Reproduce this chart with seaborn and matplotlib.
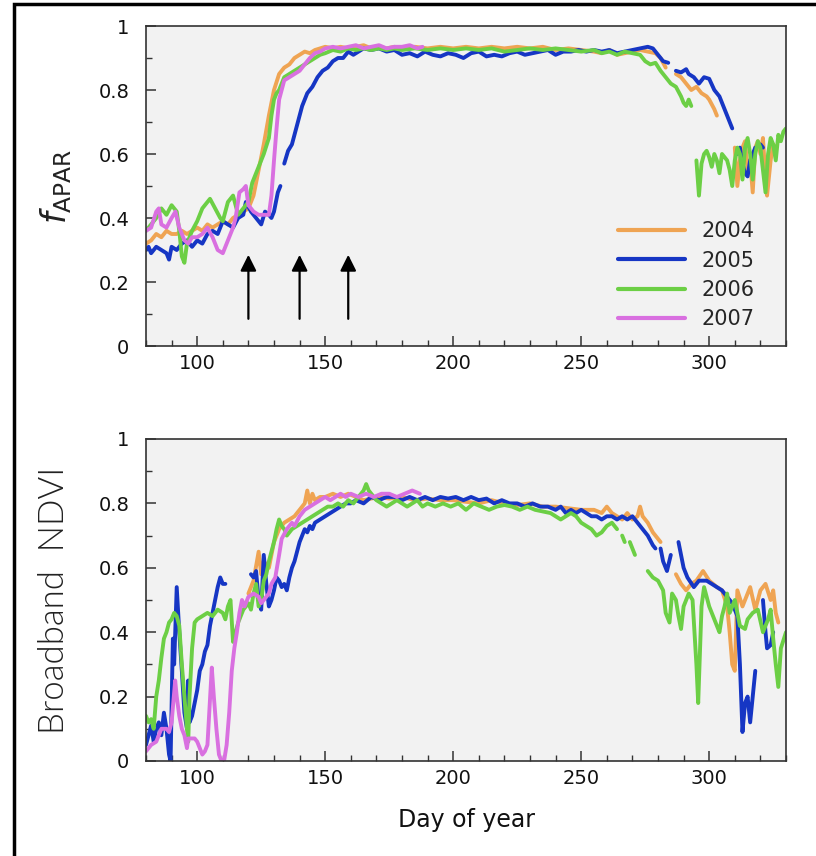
import numpy as np
import pandas as pd
import seaborn as sns
import matplotlib
matplotlib.use("Agg")
import matplotlib.pyplot as plt
from matplotlib.lines import Line2D
from matplotlib.patches import Rectangle
from matplotlib.ticker import MultipleLocator, FixedLocator, FuncFormatter

years = ["2004", "2005", "2006", "2007"]
colors = ["#EFA453", "#1636C4", "#6CCF45", "#D970E0"]

# ---- fAPAR (top panel): (day, value); None marks a gap ----
fapar_2004 = [(80,.32),(82,.33),(84,.35),(86,.34),(88,.36),(90,.35),(92,.35),(94,.36),(96,.35),(98,.36),(100,.37),(102,.36),(104,.38),(106,.37),(108,.38),(110,.39),(112,.38),(114,.40),(116,.41),(118,.42),(120,.43),(122,.47),(124,.55),(126,.63),(128,.72),(130,.80),(132,.85),(134,.87),(136,.88),(138,.90),(140,.91),(142,.92),(144,.915),(146,.925),(148,.93),(150,.935),(153,.93),(156,.935),(159,.93),(162,.935),(165,.94),(168,.93),(171,.935),(174,.93),(177,.935),(180,.93),(185,.935),(190,.93),(195,.935),(200,.93),(205,.935),(210,.93),(215,.935),(220,.93),(225,.935),(230,.93),(235,.935),(240,.925),(245,.93),(250,.925),(255,.92),(258,.915),(261,.925),(264,.91),(267,.915),(270,.92),(273,.925),(276,.92),(279,.915),(281,.90),(283,.87),None,(287,.85),(289,.84),(291,.82),(293,.80),(295,.81),(297,.79),(299,.78),(300,.77),(302,.74),(303,.72),None,(310,.62),(311,.50),(312,.58),(313,.62),(314,.64),(315,.55),(316,.58),(317,.48),(318,.62),(319,.64),(320,.60),(321,.65),(322,.52),(322.6,.47),(324,.58),(325,.63),(326,.62)]
fapar_2005 = [(80,.30),(81,.31),(82,.29),(84,.31),(86,.30),(88,.29),(89,.27),(90,.31),(92,.30),(94,.32),(96,.33),(98,.31),(100,.33),(102,.32),(104,.35),(106,.36),(108,.35),(110,.39),(112,.38),(114,.37),(116,.40),(118,.41),(119,.45),(121,.42),(123,.40),(125,.38),(126.5,.42),(128,.41),(129,.40),(130,.42),(131.5,.48),(132.5,.50),None,(134,.57),(135.5,.61),(137,.63),(139,.69),(141,.75),(143,.79),(145,.81),(147,.84),(149,.86),(151,.87),(153,.89),(155,.90),(157,.90),(159,.92),(161,.91),(163,.92),(165,.93),(168,.925),(171,.93),(174,.92),(177,.925),(180,.91),(183,.915),(186,.905),(189,.92),(192,.91),(195,.905),(198,.915),(201,.91),(204,.90),(207,.915),(210,.92),(213,.905),(216,.91),(219,.905),(222,.915),(225,.92),(228,.91),(231,.915),(234,.92),(237,.925),(240,.91),(243,.92),(246,.92),(249,.925),(252,.92),(255,.925),(258,.92),(261,.925),(264,.915),(267,.92),(270,.925),(273,.93),(276,.935),(278,.93),(280,.91),(282,.89),(284,.885),None,(287,.86),(289,.855),(291,.865),(292,.85),(294,.84),(296,.82),(298,.84),(300,.835),(302,.80),(304,.78),(306,.74),(308,.70),(309,.68),None,(311,.60),(312,.62),(313,.57),(314,.54),(315,.53),(316,.58),(317,.60),(318,.62),None,(320,.63),(321,.62)]
fapar_2006 = [(80,.36),(82,.38),(84,.40),(86,.43),(88,.41),(90,.44),(92,.42),(93,.36),(94,.28),(95,.26),(96,.32),(98,.36),(100,.39),(102,.43),(104,.45),(105,.46),(107,.43),(109,.40),(110,.39),(112,.45),(114,.47),(116,.41),(118,.43),(120,.45),(121.5,.51),(123,.54),(124,.56),(126,.60),(128,.65),(129,.72),(130,.77),(131,.79),(132,.80),(134,.84),(136,.85),(138,.86),(140,.87),(142,.88),(144,.89),(146,.90),(148,.91),(150,.915),(153,.925),(156,.92),(159,.93),(162,.925),(165,.93),(168,.925),(171,.93),(174,.925),(177,.93),(180,.925),(185,.93),(190,.925),(195,.93),(200,.925),(205,.93),(210,.925),(215,.93),(220,.92),(225,.925),(230,.93),(235,.925),(240,.93),(245,.925),(250,.92),(255,.925),(258,.915),(261,.92),(264,.91),(267,.92),(270,.915),(273,.91),(275,.89),(277,.88),(279,.885),(281,.86),(283,.84),(285,.82),(287,.81),(289,.78),(290,.76),(291,.75),(292,.77),(293,.75),None,(295,.58),(296,.47),(297,.57),(298,.60),(299,.61),(300,.59),(301,.56),(302,.60),(303,.58),(304,.54),(305,.60),(306,.59),(307,.58),(308,.55),(309,.50),(310,.58),(311,.62),(312,.60),(313,.52),(314,.62),(315,.65),(316,.60),(317,.52),(318,.60),(319,.64),(320,.62),(321,.55),(322,.48),(323,.60),(324,.65),(325,.63),(326,.58),(327,.66),(328,.64),(329,.67),(330,.68)]
fapar_2007 = [(80,.36),(82,.37),(84,.42),(85,.43),(86,.38),(88,.37),(90,.40),(91.5,.42),(93,.37),(95,.33),(96.5,.32),(98,.34),(100,.34),(102,.35),(104,.37),(106,.34),(108,.30),(110,.29),(112,.33),(114,.37),(115,.40),(116.5,.48),(118,.49),(119,.50),(120,.44),(122,.42),(124,.41),(126,.41),(128,.41),(129,.47),(130,.58),(131,.68),(132,.77),(133,.80),(134,.83),(136,.84),(138,.85),(140,.86),(142,.88),(144,.90),(146,.915),(148,.92),(150,.93),(153,.935),(156,.93),(159,.935),(162,.94),(165,.93),(168,.935),(171,.94),(174,.93),(177,.935),(180,.935),(183,.94),(186,.93),(188,.935)]

# ---- Broadband NDVI (bottom panel) ----
ndvi_2004 = [(120,.52),(122,.56),(124,.65),(125,.58),(126,.62),(128,.60),(130,.68),(132,.72),(134,.74),(136,.75),(138,.76),(140,.78),(142,.80),(143,.84),(144,.80),(145,.83),(146,.81),(148,.82),(150,.82),(153,.83),(156,.82),(159,.83),(162,.82),(165,.81),(168,.815),(171,.82),(175,.815),(180,.82),(185,.81),(190,.815),(195,.81),(200,.81),(205,.805),(210,.80),(215,.81),(220,.80),(225,.795),(230,.80),(235,.79),(240,.79),(245,.785),(250,.78),(255,.78),(258,.77),(260,.79),(262,.77),(264,.76),(266,.75),(268,.77),(270,.75),(272,.76),(273,.79),(274,.76),(276,.74),(278,.71),(280,.69),(281,.68),None,(287,.58),(289,.55),(291,.53),(293,.55),(295,.56),(297.6,.59),(300,.56),(303,.54),(305,.53),(307,.48),(308,.40),(309,.30),(310,.28),(311,.53),(313,.48),(315,.52),(316,.54),(318,.47),(320,.53),(322,.55),(324,.50),(325,.53),(326,.46),(327,.43)]
ndvi_2005 = [(80,.05),(81,.08),(82,.11),(83,.06),(84,.10),(85,.12),(86,.08),(87,.15),(88,.10),(89,.02),(89.6,.0),(90.5,.38),(91,.30),(92,.54),(93,.40),(94,.28),(95,.15),(96,.10),(96.5,.25),(97,.12),(98,.14),(99,.18),(100,.22),(101,.28),(102,.30),(103,.34),(104,.36),(105,.42),(106,.46),(107,.50),(108,.54),(109,.57),(110,.55),(111,.55),None,(121,.58),(122,.57),(123,.59),(124,.50),(125,.47),(126,.64),(127,.55),(128,.48),(129,.50),(130,.53),(131,.57),(132,.56),(133,.54),(134,.55),(135,.53),(136,.57),(137,.60),(138,.62),(139,.65),(140,.68),(141,.70),(142,.72),(143,.71),(144,.73),(145,.72),(146,.74),(148,.75),(150,.76),(152,.77),(154,.78),(156,.79),(158,.80),(160,.80),(162,.81),(165,.80),(168,.82),(171,.81),(174,.82),(177,.82),(180,.81),(183,.82),(186,.81),(189,.82),(192,.81),(195,.82),(198,.815),(201,.82),(204,.81),(207,.82),(210,.81),(213,.815),(216,.80),(219,.81),(222,.80),(225,.80),(228,.79),(231,.80),(234,.79),(237,.79),(240,.78),(242,.79),(244,.77),(246,.78),(248,.77),(250,.78),(252,.77),(254,.76),(256,.76),(258,.75),(260,.76),(262,.76),(264,.75),(266,.76),(268,.75),(270,.76),(272,.74),(274,.72),(276,.70),(278,.67),(279,.66),None,(281,.66),(282,.62),(283.5,.59),(285,.64),None,(288,.68),(290,.60),(291.5,.57),(294,.54),(296,.56),(299,.56),(301,.55),(303,.54),(305,.53),(307,.51),(309,.49),(311,.45),(312,.30),(313,.09),(314,.18),(315,.20),(316,.12),(317,.20),(318,.28),None,(321,.50),(322,.40),(322.6,.35),(324,.36),(325,.40)]
ndvi_2006 = [(80,.14),(81,.12),(82,.13),(83,.10),(84,.20),(85,.25),(86,.32),(87,.38),(88,.40),(89,.43),(90,.44),(91,.46),(92,.45),(93,.42),(94,.30),(95,.20),(96,.10),(96.5,.06),(97,.20),(98,.35),(99,.43),(100,.44),(102,.45),(104,.46),(106,.45),(108,.47),(110,.46),(111,.44),(112,.48),(113,.50),(114,.37),(115,.40),(116,.43),(118,.47),(120,.49),(121,.47),(122,.52),(123,.55),(124,.48),(125,.50),(126,.56),(127,.58),(128,.62),(129,.65),(130,.68),(131,.72),(132,.75),(133,.73),(134,.72),(135,.70),(137,.72),(139,.73),(141,.74),(143,.75),(145,.76),(147,.77),(149,.78),(151,.79),(153,.79),(155,.80),(157,.79),(159,.81),(161,.80),(163,.82),(165,.84),(166,.86),(167,.84),(168,.83),(170,.81),(172,.80),(174,.79),(176,.80),(178,.81),(180,.80),(182,.79),(184,.80),(186,.81),(188,.79),(190,.80),(193,.79),(196,.80),(199,.79),(202,.80),(205,.78),(208,.80),(211,.79),(214,.78),(217,.79),(220,.795),(223,.79),(226,.78),(229,.79),(232,.78),(235,.775),(238,.77),(240,.76),(242,.75),(244,.76),(246,.77),(248,.76),(250,.74),(252,.73),(254,.72),(256,.70),(258,.71),(260,.73),(262,.74),(264,.72),None,(266,.70),(267,.68),None,(269,.68),(271,.64),None,(276,.59),(278,.57),(280,.56),(282,.53),(283,.46),(284.5,.43),(285.5,.52),(287,.50),(288,.45),(289,.41),(290,.48),(292,.52),(293.5,.50),(295,.30),(295.7,.18),(297,.48),(298,.54),(300,.48),(302,.44),(303,.42),(304,.40),(305,.45),(306,.48),(307,.52),(308,.46),(310,.50),(312,.42),(314,.41),(315,.44),(317,.46),(319,.47),(321,.40),(323,.44),(324,.47),(325,.38),(326,.30),(327,.23),(328,.35),(330,.40)]
ndvi_2007 = [(80,.03),(82,.05),(84,.06),(85,.08),(86,.10),(88,.10),(89,.09),(90,.12),(91.4,.25),(92,.20),(93,.14),(94,.10),(95,.08),(96,.04),(96.5,.07),(98,.07),(99,.07),(100,.06),(101,.04),(102,.02),(103,.03),(104,.05),(105.7,.29),(106.5,.20),(107.5,.10),(108.5,.02),(109.5,.0),(110.5,.0),(111.5,.05),(112.5,.15),(113.5,.28),(114.5,.35),(115.5,.40),(116.5,.46),(117.5,.50),(118.5,.48),(120,.51),(122,.52),(124,.51),(125,.49),(126,.50),(128,.52),(129,.55),(130.5,.57),(132,.64),(133,.69),(135,.72),(137,.74),(138,.73),(140,.76),(142,.78),(144,.79),(146,.80),(148,.81),(150,.82),(152,.81),(154,.82),(156,.83),(158,.82),(160,.83),(163,.82),(166,.83),(169,.82),(172,.83),(175,.83),(178,.82),(181,.83),(184,.84),(187,.83)]

fapar_series = [fapar_2004, fapar_2005, fapar_2006, fapar_2007]
ndvi_series = [ndvi_2004, ndvi_2005, ndvi_2006, ndvi_2007]

# arrows marking dates on the fAPAR panel
arrow_days = [120, 140, 159]

x_ticks = [100, 150, 200, 250, 300]
y_ticks = [0, 0.2, 0.4, 0.6, 0.8, 1]


def to_frame(series_list):
    rows = []
    for yr, pts in zip(years, series_list):
        seg = 0
        for p in pts:
            if p is None:
                seg += 1
                continue
            rows.append({"day": p[0], "value": p[1], "year": yr, "seg": f"{yr}-{seg}"})
    return pd.DataFrame(rows)


sns.set_theme(style="ticks")
plt.rcParams["font.family"] = ["DejaVu Sans"]

fig = plt.figure(figsize=(8.16, 8.56), dpi=100)
W, H = 816, 856
ax1 = fig.add_axes([146 / W, 1 - 346 / H, 640 / W, 320 / H])
ax2 = fig.add_axes([146 / W, 1 - 761 / H, 640 / W, 322 / H])

pal = dict(zip(years, colors))

for ax, series in [(ax1, fapar_series), (ax2, ndvi_series)]:
    df = to_frame(series)
    sns.lineplot(data=df, x="day", y="value", hue="year", units="seg",
                 estimator=None, sort=False, palette=pal, hue_order=years,
                 linewidth=2.8, legend=False, ax=ax)
    ax.set_facecolor("#f2f2f2")
    ax.set_xlim(80, 330)
    ax.set_ylim(0, 1)
    ax.xaxis.set_major_locator(FixedLocator(x_ticks))
    ax.xaxis.set_minor_locator(MultipleLocator(10))
    ax.yaxis.set_major_locator(FixedLocator(y_ticks))
    ax.yaxis.set_minor_locator(MultipleLocator(0.1))
    ax.yaxis.set_major_formatter(FuncFormatter(lambda v, p: f"{v:g}"))
    ax.tick_params(axis="both", which="major", direction="in", length=7,
                   width=1.1, color="#333333", labelsize=14, labelcolor="#111111")
    ax.tick_params(axis="both", which="minor", direction="in", length=4,
                   width=1.0, color="#333333")
    ax.tick_params(axis="x", which="major", pad=6)
    ax.tick_params(axis="y", which="major", pad=12)
    for s in ax.spines.values():
        s.set_color("#333333")
        s.set_linewidth(1.2)
    ax.set_xlabel("")

# arrows
for d in arrow_days:
    ax1.annotate("", xy=(d, 0.285), xytext=(d, 0.085),
                 arrowprops=dict(arrowstyle="-|>", mutation_scale=24,
                                 lw=1.6, color="black", shrinkA=0, shrinkB=0))

# labels
plt.rcParams["mathtext.fontset"] = "dejavusans"
ax1.set_ylabel(r"$f_{\mathrm{APAR}}$", fontsize=24, color="#222222")
ax1.yaxis.set_label_coords(-0.112, 0.5)
ax2.set_ylabel("Broadband  NDVI", fontsize=25, family=["Lato", "DejaVu Sans"],
               fontweight=300, color="#222222")
ax2.yaxis.set_label_coords(-0.118, 0.5)
ax2.set_xlabel("Day of year", fontsize=17, color="#111111", labelpad=14)

# legend
handles = [Line2D([], [], color=c, lw=3) for c in colors]
ax1.legend(handles, years, loc="upper left", bbox_to_anchor=(0.738, 0.39),
           frameon=False, fontsize=15, handlelength=3.2, handletextpad=0.8,
           labelspacing=0.45, borderpad=0, borderaxespad=0)

# outer frame (left and top edges visible)
fig.patches.append(Rectangle((14 / W, -0.2), 1.2, 1.2 - 3.5 / H,
                             transform=fig.transFigure, fill=False,
                             edgecolor="black", linewidth=2.5))

fig.savefig("out.png", dpi=100)
